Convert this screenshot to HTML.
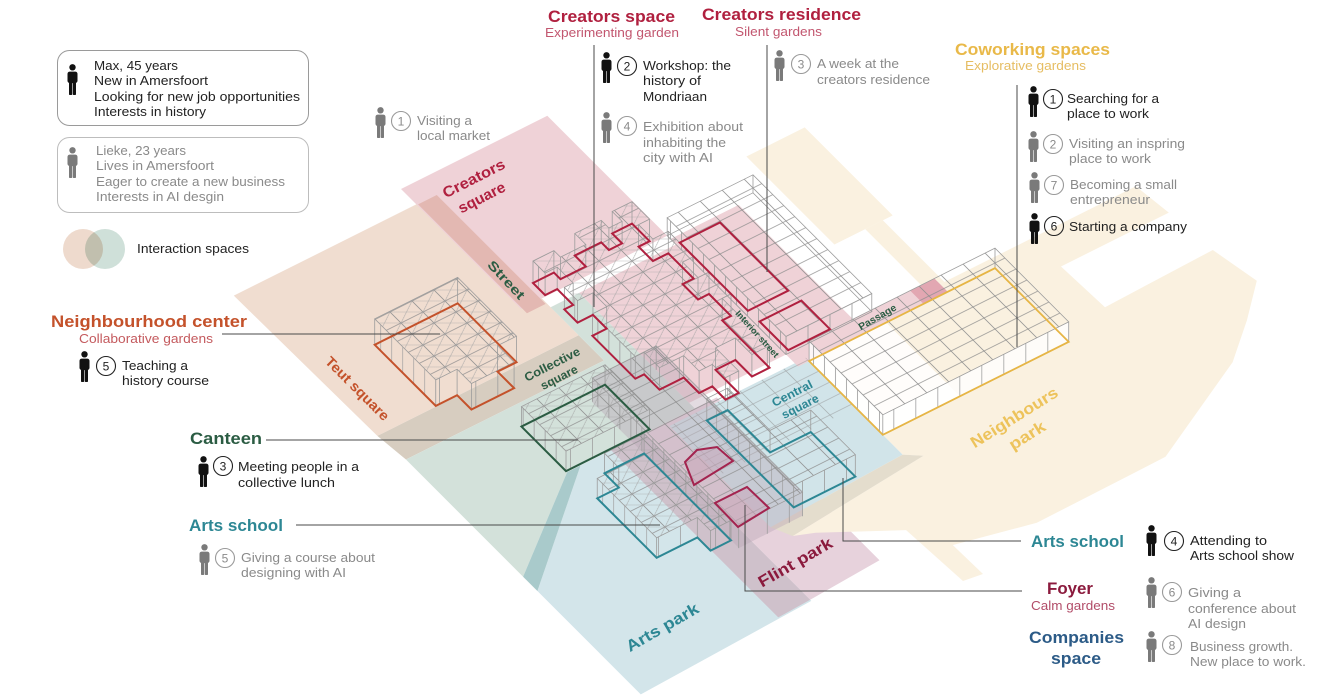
<!DOCTYPE html>
<html><head><meta charset="utf-8">
<style>
html,body{margin:0;padding:0;background:#fff;overflow:hidden}
svg{display:block}
text{font-family:"Liberation Sans",Arial,sans-serif}
.iso *{vector-effect:non-scaling-stroke}
.t{font-size:13px;fill:#222}
.g{font-size:13px;fill:#8a8a8a}
.b{font-weight:bold;font-size:17px}
.z{font-weight:bold;text-anchor:middle}
.nb{font-size:12px;text-anchor:middle;fill:#222}
.ng{font-size:12px;text-anchor:middle;fill:#8a8a8a}
.cb{fill:none;stroke:#222;stroke-width:1.1}
.cg{fill:none;stroke:#9a9a9a;stroke-width:1.1}
.wf{stroke:#9c9c9c;stroke-width:0.8}
.ln{fill:none;stroke:#4a4a4a;stroke-width:1}
</style></head><body>
<svg width="1320" height="696" viewBox="0 0 1320 696" xmlns="http://www.w3.org/2000/svg">
<defs>
<symbol id="fig" viewBox="0 0 13 31"><circle cx="6.5" cy="3.3" r="3.2"/><rect x="1.5" y="7.6" width="10" height="11.5" rx="2.3"/><rect x="3" y="15" width="3.2" height="16" rx=".7"/><rect x="6.8" y="15" width="3.2" height="16" rx=".7"/></symbol>
<pattern id="gr" patternUnits="userSpaceOnUse" x="0.5" y="0.5" width="1" height="1"><path d="M0 0.5H1" stroke="#8e8e8e" stroke-width="0.05" fill="none"/><path d="M0.5 0V1" stroke="#8e8e8e" stroke-width="0.035" fill="none"/></pattern>
<pattern id="tr" patternUnits="userSpaceOnUse" x="0.5" y="0.5" width="1" height="1"><path d="M0 0.5H1" stroke="#8e8e8e" stroke-width="0.05" fill="none"/><path d="M0.5 0V1" stroke="#8e8e8e" stroke-width="0.035" fill="none"/><path d="M0 0L1 1M1 0L0 1" stroke="#a4a4a4" stroke-width="0.025" fill="none"/></pattern>
<pattern id="vlv" patternUnits="userSpaceOnUse" width="1" height="1"><path d="M0.5 0V1" stroke="#9c9c9c" stroke-width="0.07" fill="none"/></pattern>
<pattern id="vlu" patternUnits="userSpaceOnUse" width="1" height="1"><path d="M0.5 0V1" stroke="#9c9c9c" stroke-width="0.035" fill="none"/></pattern>
</defs>

<!-- GROUND ZONES -->
<g class="iso" transform="matrix(22,-11,11,11,533,283)">
<polygon fill="#f0ddd0" points="-9.45,-8.3 -1.1,-8.3 -1.1,1.2 -0.2,1.2 -0.2,4.55 -9.35,4.55"/>
<polygon fill="#efd2d7" points="-1.15,-9.7 5.5,-9.7 5.5,1.2 -1.15,1.2"/>
<polygon fill="#e3b8b2" points="-1.1,-8.25 -0.25,-8.25 -0.25,1.65 -1.1,1.65"/>
<polygon fill="#d7cdc0" points="-9.35,4.55 -0.2,4.55 -0.2,6.85 -9.2,6.85"/>
<polygon fill="#d3e1da" points="-9.2,6.85 -0.2,6.85 -0.2,2 1.1,2 1.1,12.5 -4.7,12.5 -9.2,17.5"/>
<polygon fill="#efd2d7" points="1.1,2 5.5,2 5.5,1.5 8.6,1.5 8.6,12 1.1,12"/>
<polygon fill="#d3e5ea" points="-4.09,12.5 -1.2,12.5 -1.2,27.7 -9.2,28.2 -9.2,18.8"/>
<polygon fill="#a9cacb" points="-4.7,12.5 -4.09,12.5 -9.2,18.8 -9.2,17.5"/>
<polygon fill="#e7d2dc" points="-1.2,12.5 2.1,12.5 2.1,27.3 -1.2,27.6"/>
<polygon fill="#cfc1cb" points="-2.7,12.5 -1.2,12.5 -1.2,27.6 -2.7,27.7"/>
<polygon fill="#faf1e0" points="10.3,-1.2 12.95,-1.2 12.95,6.8 10.3,6.8"/>
<polygon fill="#faf1e0" points="11.7,6.8 12.5,6.8 12.5,12.4 11.7,12.4"/>
<polygon fill="#faf1e0" points="5.9,12.4 21.2,12.4 21.4,15 16.5,15 16.6,18.8 21.6,18.6 22,21.8 20.5,23.9 18.8,26 13.9,29.7 8,29.8 4.5,28.5 3.94,26.4 1,23.7 0.2,23.2 6.6,22.3 6,21.6 6,12.4"/>
<polygon fill="#d1e4e9" points="-0.2,12.8 6,12.8 6,21.6 -0.2,22"/>
<polygon fill="#e4ddcd" points="-0.2,22 6,21.6 6.6,22.3 0.2,23.2"/>
<polygon fill="#efd2d7" points="5.5,11.9 12.3,11.9 12.3,13.1 5.5,13.1"/>
<polygon fill="#e2a7b2" points="11.2,11.9 12.3,11.9 12.3,13.1 11.2,13.1"/>
<polygon fill="#ffffff" fill-opacity=".85" points="6,13.1 9.5,13.1 9.5,19.8 6,19.8"/>
<polygon fill="url(#gr)" opacity=".6" points="-0.2,12.8 6,12.8 6,17.3 -0.2,17.3"/>
</g>
<polygon fill="#faf1e0" points="906,530 936,529 983,574 963,581"/>

<!-- central block mauve -->
<polygon fill="#b8a5b5" fill-opacity=".4" points="592,378 656,346 802,492 802,516 739,548 592,402"/>

<!-- VERTICAL FACES -->
<g transform="matrix(11,11,0,-1,386.26,356.37)"><rect x="-1.05" y="0" width="5.55" height="26" fill="url(#vlv)"/></g>
<g transform="matrix(22,-11,0,-1,596.8,346.8)"><rect x="-5.7" y="0" width="1.94" height="26" fill="url(#vlu)"/></g>
<g transform="matrix(22,-11,0,-1,582.5,332.5)"><rect x="-6.67" y="0" width="0.97" height="26" fill="url(#vlu)"/></g>
<g transform="matrix(11,11,0,-1,429.6,334.7)"><rect x="8.35" y="0" width="4.05" height="20" fill="url(#vlv)"/></g>
<g transform="matrix(22,-11,0,-1,669.4,419.4)"><rect x="-4.7" y="0" width="3.8" height="20" fill="url(#vlu)"/></g>
<g transform="matrix(11,11,0,-1,533,283)"><rect x="0" y="0" width="1.1" height="22" fill="url(#vlv)"/></g>
<g transform="matrix(11,11,0,-1,536.3,281.35)"><rect x="2.55" y="0" width="1.2" height="22" fill="url(#vlv)"/></g>
<g transform="matrix(11,11,0,-1,537.4,280.8)"><rect x="5" y="0" width="3.9" height="22" fill="url(#vlv)"/></g>
<g transform="matrix(11,11,0,-1,546.2,276.4)"><rect x="8.9" y="0" width="1.4" height="22" fill="url(#vlv)"/></g>
<g transform="matrix(22,-11,0,-1,646.3,396.3)"><rect x="0.6" y="0" width="1.1" height="22" fill="url(#vlu)"/></g>
<g transform="matrix(22,-11,0,-1,661.7,411.7)"><rect x="1.7" y="0" width="0.6" height="22" fill="url(#vlu)"/></g>
<g transform="matrix(22,-11,0,-1,674.9,424.9)"><rect x="2.3" y="0" width="0.6" height="22" fill="url(#vlu)"/></g>
<g transform="matrix(22,-11,0,-1,668.3,418.3)"><rect x="3.8" y="0" width="0.8" height="22" fill="url(#vlu)"/></g>
<g transform="matrix(11,11,0,-1,654,222.5)"><rect x="1.2" y="0" width="10.8" height="18" fill="url(#vlv)"/></g>
<g transform="matrix(22,-11,0,-1,665,415)"><rect x="5.5" y="0" width="3.9" height="18" fill="url(#vlu)"/></g>
<g transform="matrix(11,11,0,-1,493.4,302.8)"><rect x="9" y="0" width="13.3" height="24" fill="url(#vlv)"/></g>
<g transform="matrix(22,-11,0,-1,778.3,528.3)"><rect x="-1.8" y="0" width="2.9" height="24" fill="url(#vlu)"/></g>
<g transform="matrix(11,11,0,-1,432.24,333.38)"><rect x="15" y="0" width="5.4" height="20" fill="url(#vlv)"/></g>
<g transform="matrix(11,11,0,-1,453.8,322.6)"><rect x="13.7" y="0" width="1.3" height="20" fill="url(#vlv)"/></g>
<g transform="matrix(22,-11,0,-1,757.4,507.4)"><rect x="-4.58" y="0" width="1.85" height="20" fill="url(#vlu)"/></g>
<g transform="matrix(22,-11,0,-1,770.6,520.6)"><rect x="-2.73" y="0" width="0.93" height="20" fill="url(#vlu)"/></g>
<g transform="matrix(11,11,0,-1,557.2,270.9)"><rect x="13.6" y="0" width="7.9" height="22" fill="url(#vlv)"/></g>
<g transform="matrix(22,-11,0,-1,769.5,519.5)"><rect x="1.1" y="0" width="2.8" height="22" fill="url(#vlu)"/></g>
<g transform="matrix(11,11,0,-1,665,217)"><rect x="13.1" y="0" width="6.7" height="20" fill="#fff" fill-opacity=".8"/><rect x="13.1" y="0" width="6.7" height="20" fill="url(#vlv)"/></g>
<g transform="matrix(22,-11,0,-1,750.8,500.8)"><rect x="6" y="0" width="8.45" height="20" fill="#fff" fill-opacity=".8"/><rect x="6" y="0" width="8.45" height="20" fill="url(#vlu)"/></g>

<!-- TOP FACES -->
<g transform="translate(0,-26)"><g class="iso" transform="matrix(22,-11,11,11,533,283)"><polygon class="wf" fill="url(#tr)" points="-6.67,-1.05 -2.9,-1.05 -2.9,4.3 -3.76,4.3 -3.76,5.8 -5.7,5.8 -5.7,4.5 -6.67,4.5"/></g></g>
<g transform="translate(0,-20)"><g class="iso" transform="matrix(22,-11,11,11,533,283)"><polygon class="wf" fill="url(#tr)" points="-4.7,8.35 -0.9,8.35 -0.9,12.4 -4.7,12.4"/>
<polygon class="wf" fill="url(#tr)" points="-3.6,13.7 -1.8,13.7 -1.8,21.6 -2.73,21.6 -2.73,20.4 -4.58,20.4 -4.58,15 -3.6,15"/>
<polygon class="wf" fill="url(#gr)" points="6,13.1 14.45,13.1 14.45,19.8 6,19.8"/></g></g>
<g transform="translate(0,-22)"><g class="iso" transform="matrix(22,-11,11,11,533,283)"><polygon class="wf" fill="url(#tr)" points="0,0 0.95,0 0.95,0.6 2.1,0.6 2.1,-0.4 3.3,-0.4 3.3,0.3 3.9,0.3 3.9,-0.6 4.8,-0.6 4.8,1 4.3,1 4.3,2.3 5,2.3 5,4.6 4.5,4.6 4.5,6 5,6 5,8 4.6,8 4.6,12.3 3.8,12.3 3.8,10.8 2.9,10.8 2.9,12.9 2.3,12.9 2.3,11.7 1.7,11.7 1.7,10.3 0.6,10.3 0.6,8.9 0.2,8.9 0.2,5 0.85,5 0.85,3.75 0.15,3.75 0.15,2.55 0.55,2.55 0.55,1.1 0,1.1"/>
<polygon class="wf" fill="url(#gr)" points="1.1,13.6 2.05,13.6 2.05,17.45 3.9,17.45 3.9,21.5 1.1,21.5"/></g></g>
<g transform="translate(0,-18)"><g class="iso" transform="matrix(22,-11,11,11,533,283)"><polygon class="wf" fill="url(#gr)" points="5.5,1.2 9.4,1.2 9.4,12 5.5,12"/></g></g>
<g transform="translate(0,-24)"><g class="iso" transform="matrix(22,-11,11,11,533,283)"><polygon class="wf" fill="url(#gr)" points="-1.8,9 1.1,9 1.1,22.3 -1.8,22.3"/></g></g>

<!-- VERTICAL EDGES + OUTLINES -->
<g class="iso" transform="matrix(22,-11,11,11,533,283)">
<path class="wf" fill="none" d="M-6.67 -1.05l.788-1.576M-2.9 -1.05l.788-1.576M-2.9 4.3l.788-1.576M-3.76 4.3l.788-1.576M-3.76 5.8l.788-1.576M-5.7 5.8l.788-1.576M-5.7 4.5l.788-1.576M-6.67 4.5l.788-1.576"/>
<path class="wf" fill="none" d="M-4.7 8.35l.606-1.212M-0.9 8.35l.606-1.212M-0.9 12.4l.606-1.212M-4.7 12.4l.606-1.212M-3.6 13.7l.606-1.212M-1.8 13.7l.606-1.212M-1.8 21.6l.606-1.212M-2.73 21.6l.606-1.212M-2.73 20.4l.606-1.212M-4.58 20.4l.606-1.212M-4.58 15l.606-1.212M-3.6 15l.606-1.212M6 13.1l.606-1.212M14.45 13.1l.606-1.212M14.45 19.8l.606-1.212M6 19.8l.606-1.212"/>
<path class="wf" fill="none" d="M0 0l.667-1.333M.95 0l.667-1.333M.95 .6l.667-1.333M2.1 .6l.667-1.333M2.1 -.4l.667-1.333M3.3 -.4l.667-1.333M3.3 .3l.667-1.333M3.9 .3l.667-1.333M3.9 -.6l.667-1.333M4.8 -.6l.667-1.333M4.8 1l.667-1.333M4.3 1l.667-1.333M4.3 2.3l.667-1.333M5 2.3l.667-1.333M5 4.6l.667-1.333M4.5 4.6l.667-1.333M4.5 6l.667-1.333M5 6l.667-1.333M5 8l.667-1.333M4.6 8l.667-1.333M4.6 12.3l.667-1.333M3.8 12.3l.667-1.333M3.8 10.8l.667-1.333M2.9 10.8l.667-1.333M2.9 12.9l.667-1.333M2.3 12.9l.667-1.333M2.3 11.7l.667-1.333M1.7 11.7l.667-1.333M1.7 10.3l.667-1.333M.6 10.3l.667-1.333M.6 8.9l.667-1.333M.2 8.9l.667-1.333M.2 5l.667-1.333M.85 5l.667-1.333M.85 3.75l.667-1.333M.15 3.75l.667-1.333M.15 2.55l.667-1.333M.55 2.55l.667-1.333M.55 1.1l.667-1.333M0 1.1l.667-1.333M1.1 13.6l.667-1.333M2.05 13.6l.667-1.333M2.05 17.45l.667-1.333M3.9 17.45l.667-1.333M3.9 21.5l.667-1.333M1.1 21.5l.667-1.333"/>
<path class="wf" fill="none" d="M5.5 1.2l.545-1.091M9.4 1.2l.545-1.091M9.4 12l.545-1.091M5.5 12l.545-1.091M-1.8 9l.727-1.455M1.1 9l.727-1.455M1.1 22.3l.727-1.455M-1.8 22.3l.727-1.455"/>
<polygon class="wf" fill="none" points="5.5,1.2 9.4,1.2 9.4,12 5.5,12"/>
<polygon fill="none" stroke="#c4522b" stroke-width="2" points="-6.67,-1.05 -2.9,-1.05 -2.9,4.3 -3.76,4.3 -3.76,5.8 -5.7,5.8 -5.7,4.5 -6.67,4.5"/>
<polygon fill="none" stroke="#2b5c43" stroke-width="2" points="-4.7,8.35 -0.9,8.35 -0.9,12.4 -4.7,12.4"/>
<polygon fill="none" stroke="#b0203f" stroke-width="2" points="0,0 0.95,0 0.95,0.6 2.1,0.6 2.1,-0.4 3.3,-0.4 3.3,0.3 3.9,0.3 3.9,-0.6 4.8,-0.6 4.8,1 4.3,1 4.3,2.3 5,2.3 5,4.6 4.5,4.6 4.5,6 5,6 5,8 4.6,8 4.6,12.3 3.8,12.3 3.8,10.8 2.9,10.8 2.9,12.9 2.3,12.9 2.3,11.7 1.7,11.7 1.7,10.3 0.6,10.3 0.6,8.9 0.2,8.9 0.2,5 0.85,5 0.85,3.75 0.15,3.75 0.15,2.55 0.55,2.55 0.55,1.1 0,1.1"/>
<polygon fill="none" stroke="#b0203f" stroke-width="2" points="5.67,2 7.5,2 7.5,8.2 5.67,8.2"/>
<polygon fill="none" stroke="#b0203f" stroke-width="2" points="5.7,9.2 7.6,9.2 7.6,11.8 5.7,11.8"/>
<polygon fill="none" stroke="#2d8794" stroke-width="2" points="-3.6,13.7 -1.8,13.7 -1.8,21.6 -2.73,21.6 -2.73,20.4 -4.58,20.4 -4.58,15 -3.6,15"/>
<polygon fill="none" stroke="#2d8794" stroke-width="2" points="1.1,13.6 2.05,13.6 2.05,17.45 3.9,17.45 3.9,21.5 1.1,21.5"/>
<polygon fill="none" stroke="#e6b545" stroke-width="1.8" points="6,13.1 14.45,13.1 14.45,19.8 6,19.8"/>
</g>

<!-- Foyer shapes -->
<polygon fill="#c9a7b9" fill-opacity=".55" stroke="#a3244f" stroke-width="2" points="685,462 697,450 717,447 733,461 694,485"/>
<polygon fill="#c9a7b9" fill-opacity=".55" stroke="#a3244f" stroke-width="2" points="715,503 747,487 769,508 738,527"/>

<!-- ZONE LABELS -->
<g class="z" fill="#b0203f" font-size="15"><text transform="translate(476,183) rotate(-27)" textLength="68" lengthAdjust="spacingAndGlyphs">Creators</text><text transform="translate(484,202) rotate(-27)" textLength="51" lengthAdjust="spacingAndGlyphs">square</text></g>
<text class="z" fill="#2b5c43" font-size="13" transform="translate(503,283) rotate(47)" textLength="48" lengthAdjust="spacingAndGlyphs">Street</text>
<text class="z" fill="#c4522b" font-size="14" transform="translate(354,392) rotate(45)" textLength="84" lengthAdjust="spacingAndGlyphs">Teut square</text>
<g class="z" fill="#2b5c43" font-size="12"><text transform="translate(554,368) rotate(-27)" textLength="61" lengthAdjust="spacingAndGlyphs">Collective</text><text transform="translate(561,381) rotate(-27)" textLength="40" lengthAdjust="spacingAndGlyphs">square</text></g>
<text class="z" fill="#2b5c43" font-size="9" transform="translate(755,336) rotate(48)" textLength="60" lengthAdjust="spacingAndGlyphs">Interior street</text>
<text class="z" fill="#2b5c43" font-size="10" transform="translate(879,320) rotate(-30)" textLength="42" lengthAdjust="spacingAndGlyphs">Passage</text>
<g class="z" fill="#2d8794" font-size="12"><text transform="translate(794,397) rotate(-27)" textLength="44" lengthAdjust="spacingAndGlyphs">Central</text><text transform="translate(802,410) rotate(-27)" textLength="40" lengthAdjust="spacingAndGlyphs">square</text></g>
<g class="z" fill="#edc35b" font-size="16"><text transform="translate(1017,422) rotate(-32)" textLength="100" lengthAdjust="spacingAndGlyphs">Neighbours</text><text transform="translate(1030,440) rotate(-32)" textLength="40" lengthAdjust="spacingAndGlyphs">park</text></g>
<text class="z" fill="#8b1a3d" font-size="16" transform="translate(798,567) rotate(-30)" textLength="83" lengthAdjust="spacingAndGlyphs">Flint park</text>
<text class="z" fill="#2d8794" font-size="16" transform="translate(665,632) rotate(-30)" textLength="81" lengthAdjust="spacingAndGlyphs">Arts park</text>

<!-- CONNECTOR LINES -->
<path class="ln" d="M594 45V307M767 45V272M1017 85V347M222 334H440M266 440H578M296 525H660M843 478V541H1021M745 505V591H1022"/>

<!-- LEGEND -->
<rect x="57.5" y="50.5" width="251" height="75" rx="12" fill="none" stroke="#9a9a9a"/>
<rect x="57.5" y="137.5" width="251" height="75" rx="12" fill="none" stroke="#bdbdbd"/>
<use href="#fig" x="66" y="64" width="13" height="31" fill="#111"/>
<use href="#fig" x="66" y="147" width="13" height="31" fill="#7a7a7a"/>
<text class="t" x="94" y="70" textLength="84" lengthAdjust="spacingAndGlyphs">Max, 45 years</text>
<text class="t" x="94" y="85" textLength="114" lengthAdjust="spacingAndGlyphs">New in Amersfoort</text>
<text class="t" x="94" y="101" textLength="206" lengthAdjust="spacingAndGlyphs">Looking for new job opportunities</text>
<text class="t" x="94" y="116" textLength="112" lengthAdjust="spacingAndGlyphs">Interests in history</text>
<text class="g" x="96" y="155" textLength="90" lengthAdjust="spacingAndGlyphs">Lieke, 23 years</text>
<text class="g" x="96" y="170" textLength="118" lengthAdjust="spacingAndGlyphs">Lives in Amersfoort</text>
<text class="g" x="96" y="186" textLength="189" lengthAdjust="spacingAndGlyphs">Eager to create a new business</text>
<text class="g" x="96" y="201" textLength="128" lengthAdjust="spacingAndGlyphs">Interests in AI desgin</text>
<circle cx="83" cy="249" r="20" fill="#eedacd"/>
<circle cx="105" cy="249" r="20" fill="#cfe0d9" style="mix-blend-mode:multiply"/>
<text class="t" x="137" y="253" textLength="112" lengthAdjust="spacingAndGlyphs">Interaction spaces</text>

<!-- Visiting a local market -->
<use href="#fig" x="374" y="107" width="13" height="31" fill="#7a7a7a"/>
<circle class="cg" cx="401" cy="121" r="9.5"/><text class="ng" x="401" y="125.5">1</text>
<text class="g" x="417" y="125" textLength="55" lengthAdjust="spacingAndGlyphs">Visiting a</text>
<text class="g" x="417" y="140" textLength="73" lengthAdjust="spacingAndGlyphs">local market</text>

<!-- Creators space -->
<text class="b" x="548" y="22" fill="#b0203f" textLength="127" lengthAdjust="spacingAndGlyphs">Creators space</text>
<text x="545" y="37" font-size="13" fill="#c2566f" textLength="134" lengthAdjust="spacingAndGlyphs">Experimenting garden</text>
<use href="#fig" x="600" y="52" width="13" height="31" fill="#111"/>
<circle class="cb" cx="627" cy="66" r="9.5"/><text class="nb" x="627" y="70.5">2</text>
<text class="t" x="643" y="70" textLength="88" lengthAdjust="spacingAndGlyphs">Workshop: the</text>
<text class="t" x="643" y="85" textLength="58" lengthAdjust="spacingAndGlyphs">history of</text>
<text class="t" x="643" y="101" textLength="64" lengthAdjust="spacingAndGlyphs">Mondriaan</text>
<use href="#fig" x="600" y="112" width="13" height="31" fill="#7a7a7a"/>
<circle class="cg" cx="627" cy="126" r="9.5"/><text class="ng" x="627" y="130.5">4</text>
<text class="g" x="643" y="131" textLength="100" lengthAdjust="spacingAndGlyphs">Exhibition about</text>
<text class="g" x="643" y="147" textLength="83" lengthAdjust="spacingAndGlyphs">inhabiting the</text>
<text class="g" x="643" y="162" textLength="70" lengthAdjust="spacingAndGlyphs">city with AI</text>

<!-- Creators residence -->
<text class="b" x="702" y="20" fill="#b0203f" textLength="159" lengthAdjust="spacingAndGlyphs">Creators residence</text>
<text x="735" y="36" font-size="13" fill="#c2566f" textLength="87" lengthAdjust="spacingAndGlyphs">Silent gardens</text>
<use href="#fig" x="773" y="50" width="13" height="31" fill="#7a7a7a"/>
<circle class="cg" cx="801" cy="64" r="9.5"/><text class="ng" x="801" y="68.5">3</text>
<text class="g" x="817" y="68" textLength="82" lengthAdjust="spacingAndGlyphs">A week at the</text>
<text class="g" x="817" y="84" textLength="113" lengthAdjust="spacingAndGlyphs">creators residence</text>

<!-- Coworking -->
<text class="b" x="955" y="55" fill="#e9b949" textLength="155" lengthAdjust="spacingAndGlyphs">Coworking spaces</text>
<text x="965" y="70" font-size="13" fill="#e6bd62" textLength="121" lengthAdjust="spacingAndGlyphs">Explorative gardens</text>
<use href="#fig" x="1027" y="86" width="13" height="31" fill="#111"/>
<circle class="cb" cx="1053" cy="99" r="9.5"/><text class="nb" x="1053" y="103.5">1</text>
<text class="t" x="1067" y="103" textLength="92" lengthAdjust="spacingAndGlyphs">Searching for a</text>
<text class="t" x="1067" y="118" textLength="82" lengthAdjust="spacingAndGlyphs">place to work</text>
<use href="#fig" x="1027" y="131" width="13" height="31" fill="#7a7a7a"/>
<circle class="cg" cx="1053" cy="144" r="9.5"/><text class="ng" x="1053" y="148.5">2</text>
<text class="g" x="1069" y="148" textLength="116" lengthAdjust="spacingAndGlyphs">Visiting an inspring</text>
<text class="g" x="1069" y="163" textLength="82" lengthAdjust="spacingAndGlyphs">place to work</text>
<use href="#fig" x="1028" y="172" width="13" height="31" fill="#7a7a7a"/>
<circle class="cg" cx="1054" cy="185" r="9.5"/><text class="ng" x="1054" y="189.5">7</text>
<text class="g" x="1070" y="189" textLength="107" lengthAdjust="spacingAndGlyphs">Becoming a small</text>
<text class="g" x="1070" y="204" textLength="80" lengthAdjust="spacingAndGlyphs">entrepreneur</text>
<use href="#fig" x="1028" y="213" width="13" height="31" fill="#111"/>
<circle class="cb" cx="1054" cy="226" r="9.5"/><text class="nb" x="1054" y="230.5">6</text>
<text class="t" x="1069" y="231" textLength="118" lengthAdjust="spacingAndGlyphs">Starting a company</text>

<!-- Neighbourhood center -->
<text class="b" x="51" y="327" fill="#c4522b" textLength="196" lengthAdjust="spacingAndGlyphs">Neighbourhood center</text>
<text x="79" y="343" font-size="13" fill="#c45a5e" textLength="134" lengthAdjust="spacingAndGlyphs">Collaborative gardens</text>
<use href="#fig" x="78" y="351" width="13" height="31" fill="#111"/>
<circle class="cb" cx="106" cy="366" r="9.5"/><text class="nb" x="106" y="370.5">5</text>
<text class="t" x="122" y="370" textLength="66" lengthAdjust="spacingAndGlyphs">Teaching a</text>
<text class="t" x="122" y="385" textLength="87" lengthAdjust="spacingAndGlyphs">history course</text>

<!-- Canteen -->
<text class="b" x="190" y="444" fill="#2b5c43" textLength="72" lengthAdjust="spacingAndGlyphs">Canteen</text>
<use href="#fig" x="197" y="456" width="13" height="31" fill="#111"/>
<circle class="cb" cx="223" cy="466" r="9.5"/><text class="nb" x="223" y="470.5">3</text>
<text class="t" x="238" y="471" textLength="121" lengthAdjust="spacingAndGlyphs">Meeting people in a</text>
<text class="t" x="238" y="487" textLength="97" lengthAdjust="spacingAndGlyphs">collective lunch</text>

<!-- Arts school left -->
<text class="b" x="189" y="531" fill="#2d8794" textLength="94" lengthAdjust="spacingAndGlyphs">Arts school</text>
<use href="#fig" x="198" y="544" width="13" height="31" fill="#7a7a7a"/>
<circle class="cg" cx="225" cy="558" r="9.5"/><text class="ng" x="225" y="562.5">5</text>
<text class="g" x="241" y="562" textLength="134" lengthAdjust="spacingAndGlyphs">Giving a course about</text>
<text class="g" x="241" y="577" textLength="105" lengthAdjust="spacingAndGlyphs">designing with AI</text>

<!-- Arts school right -->
<text class="b" x="1031" y="547" fill="#2d8794" textLength="93" lengthAdjust="spacingAndGlyphs">Arts school</text>
<use href="#fig" x="1145" y="525" width="13" height="31" fill="#111"/>
<circle class="cb" cx="1174" cy="541" r="9.5"/><text class="nb" x="1174" y="545.5">4</text>
<text class="t" x="1190" y="545" textLength="77" lengthAdjust="spacingAndGlyphs">Attending to</text>
<text class="t" x="1190" y="560" textLength="104" lengthAdjust="spacingAndGlyphs">Arts school show</text>

<!-- Foyer -->
<text class="b" x="1047" y="594" fill="#8b1a3d" textLength="46" lengthAdjust="spacingAndGlyphs">Foyer</text>
<text x="1031" y="610" font-size="13" fill="#b24d69" textLength="84" lengthAdjust="spacingAndGlyphs">Calm gardens</text>
<use href="#fig" x="1145" y="577" width="13" height="31" fill="#7a7a7a"/>
<circle class="cg" cx="1172" cy="592" r="9.5"/><text class="ng" x="1172" y="596.5">6</text>
<text class="g" x="1188" y="597" textLength="53" lengthAdjust="spacingAndGlyphs">Giving a</text>
<text class="g" x="1188" y="613" textLength="108" lengthAdjust="spacingAndGlyphs">conference about</text>
<text class="g" x="1188" y="628" textLength="58" lengthAdjust="spacingAndGlyphs">AI design</text>

<!-- Companies space -->
<text class="b" x="1029" y="643" fill="#2c5b87" textLength="95" lengthAdjust="spacingAndGlyphs">Companies</text>
<text class="b" x="1051" y="664" fill="#2c5b87" textLength="50" lengthAdjust="spacingAndGlyphs">space</text>
<use href="#fig" x="1145" y="631" width="13" height="31" fill="#7a7a7a"/>
<circle class="cg" cx="1172" cy="645" r="9.5"/><text class="ng" x="1172" y="649.5">8</text>
<text class="g" x="1190" y="651" textLength="103" lengthAdjust="spacingAndGlyphs">Business growth.</text>
<text class="g" x="1190" y="666" textLength="116" lengthAdjust="spacingAndGlyphs">New place to work.</text>
</svg>
</body></html>
